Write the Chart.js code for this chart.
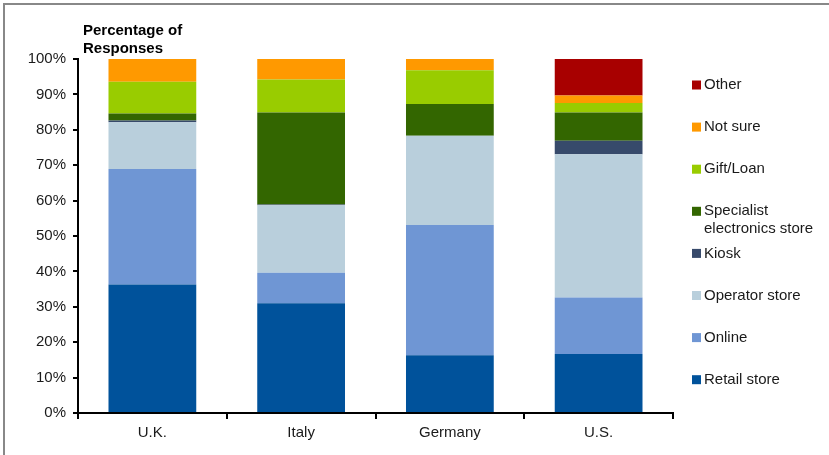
<!DOCTYPE html>
<html>
<head>
  <title>Percentage of Responses</title>
  <script src="https://cdn.jsdelivr.net/npm/chart.js"></script>
  <style>
    body { margin: 0; background: #fff; }
  </style>
</head>
<body>
  <canvas id="purchaseChart" width="829" height="455"></canvas>

  <script>
    // data
    var countries = ["U.K.", "Italy", "Germany", "U.S."];
    var yTicks = [0, 10, 20, 30, 40, 50, 60, 70, 80, 90, 100];

    var retailStore     = [36.3, 31.0, 16.3, 16.7];
    var online          = [32.6,  8.6, 36.8, 15.9];
    var operatorStore   = [13.2, 19.1, 25.2, 40.5];
    var kiosk           = [ 0.5,  0.2,  0.0,  3.8];
    var specialistStore = [ 2.0, 26.0,  9.0,  8.0];
    var giftLoan        = [ 9.0,  9.3,  9.5,  2.7];
    var notSure         = [ 6.4,  5.8,  3.2,  2.1];
    var other           = [ 0.0,  0.0,  0.0, 10.3];

    var FONT = "'Liberation Sans', Arial, sans-serif";
    var TEXT = "#1a1a1a";

    function series(label, data, color) {
      return {
        label: label,
        data: data,
        backgroundColor: color,
        borderWidth: 0,
        categoryPercentage: 1.0,
        barPercentage: 0.59
      };
    }

    // stacked bottom to top
    var datasets = [
      series("Retail store", retailStore, "#00529b"),
      series("Online", online, "#6f96d4"),
      series("Operator store", operatorStore, "#b9cfdc"),
      series("Kiosk", kiosk, "#374a6b"),
      series(["Specialist", "electronics store"], specialistStore, "#336600"),
      series("Gift/Loan", giftLoan, "#99cc00"),
      series("Not sure", notSure, "#ff9900"),
      series("Other", other, "#a80000")
    ];

    // legend, axis heading and frame drawn by hand
    var extras = {
      id: "extras",
      afterDraw: function(chart) {
        var ctx = chart.ctx;
        var area = chart.chartArea;
        ctx.save();

        // frame lines (top + left)
        ctx.strokeStyle = "#888";
        ctx.lineWidth = 2;
        ctx.beginPath();
        ctx.moveTo(4, 455);
        ctx.lineTo(4, 4);
        ctx.lineTo(829, 4);
        ctx.stroke();

        // heading over the y axis
        ctx.fillStyle = "#000";
        ctx.font = "bold 15px " + FONT;
        ctx.textBaseline = "middle";
        ctx.textAlign = "left";
        ctx.fillText("Percentage of", 83, 31);
        ctx.fillText("Responses", 83, 49);

        // legend, top entry is the last dataset
        ctx.font = "15px " + FONT;
        ctx.fillStyle = TEXT;
        var ds = chart.data.datasets;
        var y = 85;
        for (var i = ds.length - 1; i >= 0; i--) {
          ctx.fillStyle = ds[i].backgroundColor;
          ctx.fillRect(692, y - 4.5, 9, 9);
          ctx.fillStyle = TEXT;
          var lines = Array.isArray(ds[i].label) ? ds[i].label : [ds[i].label];
          for (var j = 0; j < lines.length; j++) {
            ctx.fillText(lines[j], 704, y + j * 18);
          }
          y += 42.1;
        }
        ctx.restore();
      }
    };

    var purchaseChart = new Chart("purchaseChart", {
      type: "bar",
      data: {
        labels: countries,
        datasets: datasets
      },
      options: {
        responsive: false,
        animation: false,
        devicePixelRatio: 1,
        layout: {
          padding: { left: 0, right: 156, top: 59, bottom: 0 }
        },
        plugins: {
          legend: { display: false },
          tooltip: { enabled: false }
        },
        scales: {
          x: {
            stacked: true,
            grid: {
              offset: true,
              drawOnChartArea: false,
              drawTicks: true,
              tickLength: 6,
              color: "#000",
              lineWidth: 2
            },
            border: { display: true, color: "#000", width: 2 },
            ticks: {
              color: TEXT,
              font: { family: FONT, size: 15 },
              padding: 5,
              maxRotation: 0
            },
            afterFit: function(scale) { scale.height = 42; }
          },
          y: {
            stacked: true,
            min: 0,
            max: 100,
            afterBuildTicks: function(scale) {
              scale.ticks = yTicks.map(function(v) { return { value: v }; });
            },
            grid: {
              drawOnChartArea: false,
              drawTicks: true,
              tickLength: 5,
              color: "#000",
              lineWidth: 2
            },
            border: { display: true, color: "#000", width: 2 },
            ticks: {
              color: TEXT,
              font: { family: FONT, size: 15 },
              padding: 7,
              callback: function(v) { return v + "%"; }
            },
            afterFit: function(scale) { scale.width = 78; }
          }
        }
      },
      plugins: [extras]
    });
  </script>
</body>
</html>
